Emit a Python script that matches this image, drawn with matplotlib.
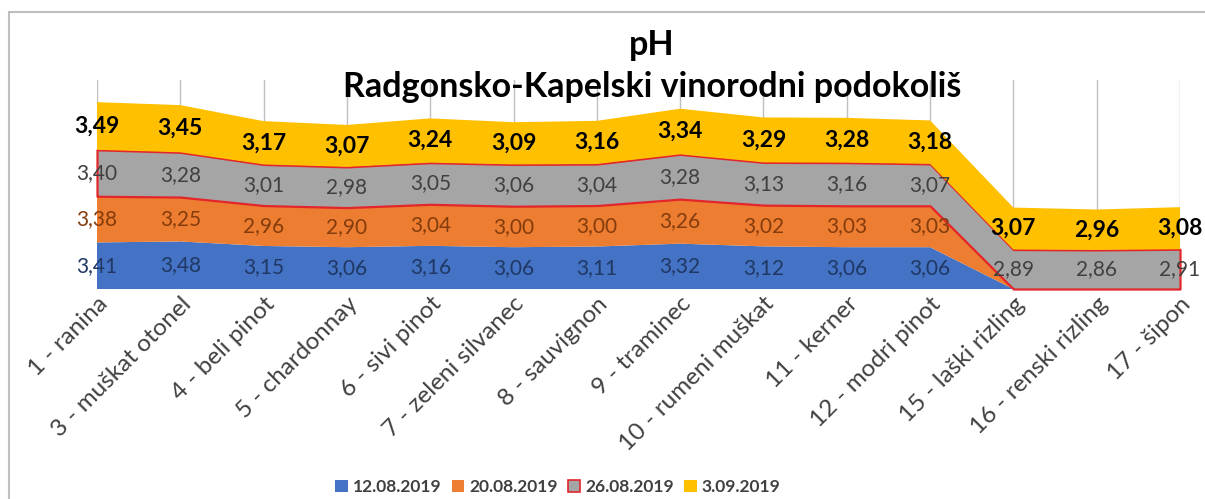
import numpy as np
import matplotlib
matplotlib.use('Agg')
import matplotlib.pyplot as plt
from matplotlib.patches import Rectangle, Patch

plt.rcParams['font.family'] = ['Lato', 'DejaVu Sans']

sorte = ['1 - ranina', '3 - muškat otonel', '4 - beli pinot', '5 - chardonnay',
         '6 - sivi pinot', '7 - zeleni silvanec', '8 - sauvignon', '9 - traminec',
         '10 - rumeni muškat', '11 - kerner', '12 - modri pinot', '15 - laški rizling',
         '16 - renski rizling', '17 - šipon']

datumi = ['12.08.2019', '20.08.2019', '26.08.2019', '3.09.2019']

ph_1208 = [3.41, 3.48, 3.15, 3.06, 3.16, 3.06, 3.11, 3.32, 3.12, 3.06, 3.06, None, None, None]
ph_2008 = [3.38, 3.25, 2.96, 2.90, 3.04, 3.00, 3.00, 3.26, 3.02, 3.03, 3.03, None, None, None]
ph_2608 = [3.40, 3.28, 3.01, 2.98, 3.05, 3.06, 3.04, 3.28, 3.13, 3.16, 3.07, 2.89, 2.86, 2.91]
ph_0309 = [3.49, 3.45, 3.17, 3.07, 3.24, 3.09, 3.16, 3.34, 3.29, 3.28, 3.18, 3.07, 2.96, 3.08]

colors = ['#4472C4', '#ED7D31', '#A5A5A5', '#FFC000']
label_colors = ['#1F3864', '#843C0C', '#404040', '#000000']

series = [ph_1208, ph_2008, ph_2608, ph_0309]
vals = [np.array([np.nan if v is None else v for v in s]) for s in series]
x = np.arange(len(sorte))

fig = plt.figure(figsize=(12.05, 4.99), dpi=100)
ax = fig.add_axes([97 / 1205, (499 - 289) / 499, (1180 - 97) / 1205, (289 - 80) / 499])

# vertical gridlines
for xi in x:
    ax.axvline(xi, color='#BFBFBF', lw=1.0, zorder=0)

polys = ax.stackplot(x, *[np.nan_to_num(v) for v in vals], colors=colors, zorder=2)
polys[2].set_edgecolor('#E3262B')
polys[2].set_linewidth(1.6)
polys[2].set_clip_on(False)
for i in (0, 1, 3):
    polys[i].set_linewidth(0)

# data labels in the middle of each band
bottom = np.zeros(len(x))
for i, v in enumerate(vals):
    filled = np.nan_to_num(v)
    for xi in x:
        if not np.isnan(v[xi]):
            txt = f"{v[xi]:.2f}".replace('.', ',')
            if i == 3:
                ax.text(xi, bottom[xi] + filled[xi] / 2, txt, ha='center', va='center',
                        fontsize=16.5, fontweight='bold', color=label_colors[i], zorder=5)
            else:
                ax.text(xi, bottom[xi] + filled[xi] / 2, txt, ha='center', va='center',
                        fontsize=15, color=label_colors[i], zorder=5)
    bottom = bottom + filled

ax.set_xlim(0, len(x) - 1)
ax.set_ylim(0, 15.3)
ax.set_yticks([])
for s in ax.spines.values():
    s.set_visible(False)
ax.set_xticks(x)
ax.set_xticklabels(sorte, rotation=45, ha='right', va='top', rotation_mode='anchor',
                   fontsize=17.5, color='#404040')
ax.tick_params(axis='x', length=0, pad=3)

fig.text(652 / 1205, 1 - 45 / 499, 'pH', ha='center', va='center',
         fontsize=24.5, fontweight='bold', color='#000000')
fig.text(652 / 1205, 1 - 87 / 499, 'Radgonsko-Kapelski vinorodni podokoliš', ha='center',
         va='center', fontsize=24.5, fontweight='bold', color='#000000')

handles = [Patch(facecolor=colors[0], edgecolor='none'),
           Patch(facecolor=colors[1], edgecolor='none'),
           Patch(facecolor=colors[2], edgecolor='#E3262B', lw=1.2),
           Patch(facecolor=colors[3], edgecolor='none')]
fig.legend(handles, datumi, loc='center', bbox_to_anchor=(558 / 1205, 1 - 487 / 499),
           ncol=4, frameon=False, handlelength=0.7, handleheight=0.7, handletextpad=0.3,
           columnspacing=0.6, prop={'size': 12.5, 'weight': 'bold'}, labelcolor='#404040')

fig.patches.append(Rectangle((9 / 1205, -0.1), 1.2, 1 - 12 / 499 + 0.1,
                             transform=fig.transFigure, fill=False,
                             edgecolor='#BFBFBF', lw=1.5, zorder=0))

plt.savefig('out.png', dpi=100)
